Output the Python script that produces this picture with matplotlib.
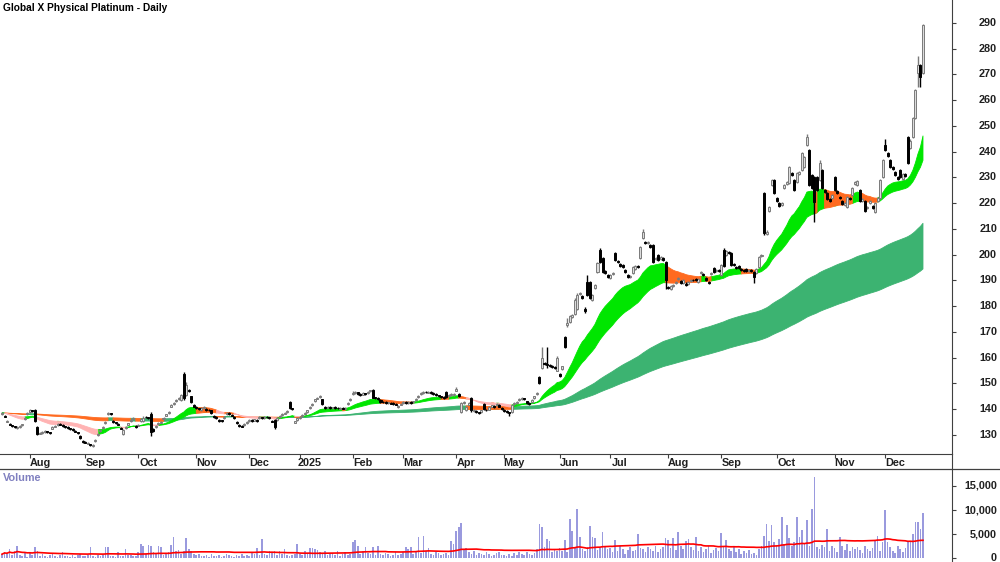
import matplotlib
matplotlib.use("Agg")
import matplotlib.pyplot as plt
from matplotlib.transforms import blended_transform_factory
import numpy as np
import pandas as pd

plt.rcParams['font.family'] = ['Liberation Sans', 'DejaVu Sans']

title = "Global X Physical Platinum - Daily"

# ASX holidays inside the chart window
asx_holidays = ["2024-12-25", "2024-12-26", "2025-01-01", "2025-01-27",
                "2025-04-18", "2025-04-21", "2025-04-25", "2025-06-09"]

# daily prices, one line per month (Jul 2024 .. Dec 2025)
opens = [
    138.0, 137.5, 135.2, 134.3, 133.7, 133.2, 132.8, 133.0, 133.8, 136.0, 138.2,
    139.0, 139.5, 139.7, 133.0, 130.5, 130.7, 131.2, 131.3, 131.0, 132.5, 133.2, 133.8, 134.2, 133.8, 133.3, 133.0, 132.5, 132.3, 131.6, 131.0, 129.5, 127.8,
    127.3, 126.6, 126.3, 125.9, 127.6, 130.0, 131.6, 132.6, 134.5, 138.0, 138.4, 135.5, 134.8, 134.3, 132.8, 130.5, 132.6, 134.0, 135.3, 136.2, 133.5,
    133.6, 135.5, 135.5, 137.0, 136.8, 138.0, 132.5, 133.0, 134.2, 134.8, 136.0, 137.5, 138.6, 141.0, 142.0, 143.2, 144.0, 143.5, 153.5, 145.5, 147.5, 145.0, 141.6,
    140.8, 140.3, 139.6, 140.5, 140.2, 139.8, 139.5, 137.4, 136.9, 135.8, 135.6, 136.5, 138.0, 138.5, 137.8, 137.0, 135.0, 133.9, 133.4, 133.8, 134.6,
    135.3, 135.9, 135.6, 135.8, 136.5, 136.8, 136.6, 137.1, 136.8, 135.6, 135.8, 135.9, 137.0, 137.8, 138.3, 138.8, 142.8, 140.3, 134.8, 135.8,
    136.6, 137.3, 138.1, 138.8, 140.5, 141.5, 143.2, 144.1, 144.8, 143.8, 141.0, 140.6, 140.9, 140.4, 140.8, 140.6, 140.2, 140.6, 140.2, 141.9, 143.5,
    145.8, 146.2, 146.5, 145.8, 145.7, 146.1, 146.3, 146.9, 147.6, 144.6, 144.3, 143.5, 142.9, 142.7, 142.3, 142.5, 142.3, 142.1, 140.8, 141.8,
    142.4, 142.8, 142.4, 142.7, 142.6, 143.5, 144.6, 145.8, 146.3, 146.8, 146.4, 146.6, 146.2, 145.8, 145.4, 145.0, 144.8, 146.7, 145.1, 145.4, 145.6,
    147.2, 146.0, 139.0, 142.4, 139.6, 141.8, 144.4, 139.3, 139.4, 138.8, 139.0, 142.0, 139.8, 139.8, 141.0, 141.3, 141.5, 141.6, 140.5,
    139.8, 139.3, 138.8, 139.0, 141.9, 142.5, 143.5, 144.0, 144.2, 143.0, 142.3, 142.8, 144.3, 145.8, 152.5, 156.0, 158.0, 157.5, 157.2, 156.7, 156.3, 155.0,
    153.5, 155.5, 168.0, 172.5, 174.0, 175.8, 177.0, 179.0, 184.6, 184.0, 179.0, 189.5, 189.5, 182.4, 187.0, 193.3, 202.0, 198.7, 193.6, 192.0,
    191.0, 192.4, 200.6, 197.5, 196.2, 195.8, 194.0, 192.0, 191.2, 193.0, 194.3, 195.7, 198.7, 206.5, 205.0, 204.6, 203.6, 203.8, 198.2, 200.0, 198.5, 198.8, 197.0,
    187.5, 186.8, 188.0, 189.0, 190.5, 189.8, 189.0, 188.8, 188.5, 189.8, 190.3, 190.4, 189.5, 192.8, 192.5, 190.8, 189.5, 192.5, 194.8, 193.6, 194.2,
    192.0, 202.0, 200.0, 201.0, 200.6, 196.4, 195.2, 195.5, 194.4, 194.2, 194.5, 193.7, 194.1, 193.3, 193.0, 195.3, 199.5, 224.0, 208.0, 217.0, 227.0, 229.0,
    222.0, 220.2, 219.4, 226.0, 227.6, 228.0, 231.8, 229.0, 228.3, 231.5, 233.0, 234.0, 242.6, 240.7, 231.0, 230.0, 230.0, 229.0, 233.0, 225.0, 224.0, 221.8, 222.0,
    230.0, 224.8, 222.5, 221.0, 219.3, 218.5, 222.0, 223.0, 227.5, 227.0, 225.0, 221.0, 221.0, 218.0, 220.0, 218.8, 216.6, 221.0, 222.0, 230.0,
    242.6, 239.3, 236.8, 234.0, 232.0, 230.2, 233.0, 229.5, 231.2, 245.7, 241.5, 245.7, 253.0, 270.6, 273.7, 270.6,
]
highs = [
    138.9, 137.8, 135.9, 134.6, 134.0, 133.5, 133.4, 133.7, 134.4, 137.0, 139.0,
    139.9, 139.8, 140.0, 133.4, 131.2, 131.4, 131.9, 131.6, 131.3, 133.4, 133.9, 134.6, 134.6, 134.1, 133.6, 133.3, 132.8, 132.6, 131.9, 131.3, 129.8, 128.1,
    127.6, 127.2, 126.6, 126.5, 128.3, 130.8, 132.3, 133.3, 135.3, 138.9, 138.7, 135.8, 135.1, 134.6, 133.1, 132.4, 133.3, 134.8, 136.1, 137.0, 133.8,
    134.3, 136.3, 137.2, 137.3, 137.1, 139.0, 132.8, 133.8, 134.9, 135.3, 136.9, 138.3, 139.3, 141.9, 142.7, 143.9, 144.8, 146.0, 154.3, 150.5, 147.8, 145.3, 141.9,
    141.1, 140.6, 140.8, 141.3, 140.5, 140.1, 139.8, 137.7, 137.2, 136.1, 135.9, 137.3, 138.9, 138.8, 138.1, 137.3, 135.3, 134.2, 133.7, 134.5, 135.3,
    136.1, 136.2, 136.3, 136.1, 137.3, 137.1, 137.3, 137.4, 137.1, 135.9, 136.1, 136.9, 137.8, 138.5, 138.8, 139.5, 143.3, 140.6, 135.6, 136.8,
    137.3, 138.1, 138.8, 139.8, 141.3, 142.3, 144.1, 144.8, 145.6, 144.1, 141.3, 141.3, 141.2, 141.0, 141.1, 140.9, 140.8, 140.9, 140.8, 142.7, 144.3,
    147.0, 147.0, 146.8, 146.1, 146.5, 146.4, 147.0, 147.6, 147.9, 144.9, 144.6, 143.8, 143.2, 143.0, 142.9, 142.8, 142.6, 142.4, 141.6, 142.5,
    143.1, 143.1, 143.0, 143.0, 143.3, 144.3, 145.4, 146.6, 147.0, 147.1, 147.0, 146.9, 146.5, 146.1, 145.7, 145.3, 145.1, 147.0, 145.8, 146.1, 146.3,
    148.7, 146.3, 142.7, 143.2, 141.4, 142.8, 144.8, 140.0, 139.7, 139.1, 139.8, 142.4, 140.1, 141.2, 141.8, 141.6, 142.3, 141.9, 140.8,
    140.1, 139.6, 139.1, 141.8, 142.7, 143.1, 144.3, 144.7, 144.5, 143.3, 142.6, 143.8, 145.3, 146.6, 152.8, 164.0, 158.5, 164.0, 157.6, 157.0, 156.6, 160.6,
    153.9, 156.9, 168.5, 175.5, 176.4, 177.0, 183.0, 185.0, 185.5, 184.4, 179.5, 192.0, 189.9, 184.8, 188.7, 197.3, 202.5, 199.1, 194.0, 192.4,
    192.4, 193.4, 201.0, 197.9, 196.6, 196.2, 194.4, 192.4, 192.0, 195.7, 195.9, 196.1, 203.4, 210.0, 205.4, 205.4, 204.0, 204.2, 199.1, 200.4, 199.4, 199.2, 197.4,
    187.9, 188.4, 188.7, 189.9, 191.4, 190.2, 190.4, 189.2, 189.9, 190.6, 190.7, 190.8, 190.9, 193.7, 192.9, 191.2, 189.9, 193.4, 195.2, 194.4, 194.6,
    196.4, 202.5, 201.9, 201.4, 201.0, 196.8, 195.6, 195.9, 194.8, 194.6, 194.9, 194.4, 194.5, 193.7, 194.9, 199.4, 200.4, 224.5, 209.4, 219.0, 229.5, 229.5,
    222.5, 220.6, 220.4, 227.4, 228.7, 234.5, 232.2, 229.4, 232.1, 232.4, 240.0, 238.4, 247.0, 241.1, 231.4, 230.4, 230.4, 236.8, 233.4, 225.4, 224.4, 222.2, 223.4,
    230.4, 225.2, 222.9, 221.4, 220.4, 222.9, 222.4, 226.4, 228.7, 228.9, 225.4, 221.9, 221.4, 218.9, 221.4, 219.2, 220.4, 222.4, 229.4, 237.2,
    245.0, 239.7, 237.2, 234.4, 232.4, 230.6, 233.4, 231.9, 231.6, 246.1, 245.0, 253.4, 264.5, 277.0, 274.1, 289.5,
]
lows = [
    137.6, 136.8, 134.9, 133.7, 133.2, 132.7, 132.5, 132.8, 133.5, 135.7, 137.9,
    138.7, 138.9, 135.0, 129.8, 130.2, 130.4, 130.9, 130.7, 130.4, 132.2, 133.0, 133.5, 133.7, 133.2, 132.7, 132.4, 132.0, 131.7, 131.0, 130.4, 128.4, 126.9,
    126.7, 126.3, 125.6, 125.5, 127.3, 129.7, 131.3, 132.3, 134.2, 137.7, 137.6, 134.7, 134.2, 133.7, 132.2, 130.1, 132.3, 133.7, 135.0, 135.9, 132.6,
    133.3, 135.2, 135.2, 136.5, 136.2, 129.5, 131.0, 132.7, 133.9, 134.5, 135.7, 137.2, 138.3, 140.7, 141.7, 142.9, 143.7, 143.2, 143.5, 145.0, 146.7, 142.5, 140.7,
    140.2, 139.7, 139.3, 140.2, 139.4, 139.2, 138.2, 136.7, 136.3, 135.2, 135.1, 136.2, 137.7, 137.9, 137.2, 136.3, 134.3, 133.2, 132.9, 133.5, 134.3,
    135.0, 135.2, 135.3, 135.2, 136.2, 136.1, 136.3, 136.5, 136.2, 134.9, 132.5, 135.6, 136.7, 137.5, 138.0, 138.5, 140.2, 139.7, 134.5, 135.5,
    136.3, 137.0, 137.8, 138.5, 140.2, 141.2, 142.9, 143.8, 144.5, 141.7, 140.2, 140.3, 140.2, 140.1, 140.2, 140.0, 139.9, 139.9, 139.9, 141.6, 143.2,
    145.5, 145.9, 145.7, 145.2, 145.4, 145.5, 146.0, 146.6, 144.2, 143.9, 143.7, 142.5, 142.3, 142.1, 142.0, 141.9, 141.7, 141.5, 140.5, 141.5,
    142.1, 142.2, 142.1, 142.1, 142.3, 143.2, 144.3, 145.5, 146.0, 146.2, 146.1, 146.0, 145.6, 145.2, 144.8, 144.3, 144.1, 144.3, 144.8, 145.1, 145.3,
    146.9, 144.7, 138.5, 142.0, 139.2, 141.5, 139.0, 139.0, 138.7, 138.0, 138.7, 139.6, 139.2, 139.5, 140.7, 140.6, 141.2, 140.7, 139.7,
    139.0, 138.7, 137.5, 138.7, 141.6, 142.2, 143.2, 143.7, 143.5, 142.2, 141.7, 142.5, 144.0, 145.5, 149.7, 155.5, 157.1, 156.0, 156.4, 156.0, 155.6, 154.7,
    152.4, 155.2, 163.6, 172.1, 173.6, 175.4, 176.6, 178.5, 184.2, 182.6, 177.5, 184.0, 182.6, 182.0, 186.6, 193.0, 196.6, 192.9, 192.6, 191.0,
    190.6, 192.0, 197.6, 196.6, 195.1, 194.9, 192.9, 191.0, 190.8, 192.6, 193.9, 194.9, 198.3, 206.1, 204.1, 204.2, 202.6, 196.6, 197.8, 197.6, 198.1, 197.6, 186.5,
    186.6, 186.4, 187.6, 188.6, 190.1, 188.6, 188.6, 187.9, 188.1, 189.4, 189.6, 189.6, 189.1, 192.4, 191.6, 189.8, 188.6, 192.1, 192.9, 193.2, 193.4,
    191.6, 195.1, 199.6, 200.2, 195.6, 195.6, 194.4, 194.4, 193.6, 193.4, 193.1, 193.3, 193.4, 189.0, 192.6, 194.9, 199.1, 207.8, 207.6, 216.6, 226.6, 223.6,
    220.6, 218.5, 219.0, 225.6, 227.2, 227.6, 230.6, 224.6, 227.9, 231.1, 232.6, 233.6, 242.2, 226.6, 225.6, 212.7, 224.6, 228.6, 225.6, 224.0, 221.1, 220.6, 221.6,
    224.6, 223.6, 221.6, 219.1, 218.9, 218.1, 221.1, 222.6, 227.1, 226.6, 220.6, 220.6, 216.6, 217.6, 219.6, 217.6, 216.2, 220.6, 221.6, 229.6,
    240.3, 238.1, 233.6, 232.9, 230.6, 229.1, 229.6, 229.1, 230.1, 235.2, 241.1, 245.3, 252.6, 265.0, 265.0, 270.2,
]
closes = [
    138.5, 137.0, 135.5, 134.0, 133.5, 133.0, 133.0, 133.3, 134.0, 136.5, 138.5,
    139.5, 139.2, 135.5, 130.5, 130.8, 131.0, 131.5, 131.0, 130.8, 133.0, 133.5, 134.2, 134.0, 133.5, 133.0, 132.7, 132.3, 132.0, 131.3, 130.8, 128.8, 127.3,
    127.0, 126.9, 126.0, 126.2, 128.0, 130.5, 132.0, 133.0, 135.0, 138.5, 138.0, 135.0, 134.5, 134.0, 132.5, 132.0, 133.0, 134.5, 135.8, 136.6, 133.0,
    134.0, 136.0, 136.6, 136.8, 136.5, 131.0, 131.5, 133.5, 134.6, 135.0, 136.6, 138.0, 139.0, 141.6, 142.4, 143.6, 144.5, 145.5, 144.4, 149.4, 147.0, 142.8, 141.0,
    140.5, 140.0, 140.5, 141.0, 139.7, 139.5, 138.5, 137.0, 136.6, 135.5, 135.4, 137.0, 138.6, 138.2, 137.5, 136.6, 134.6, 133.5, 133.2, 134.2, 135.0,
    135.8, 135.5, 136.0, 135.5, 137.0, 136.4, 137.0, 136.8, 136.5, 135.2, 133.0, 136.6, 137.5, 138.2, 138.5, 139.2, 140.5, 140.0, 135.3, 136.5,
    137.0, 137.8, 138.5, 139.5, 141.0, 142.0, 143.8, 144.5, 145.2, 142.0, 140.5, 141.0, 140.5, 140.7, 140.5, 140.3, 140.5, 140.2, 140.5, 142.4, 144.0,
    146.3, 146.7, 146.0, 145.5, 146.2, 145.8, 146.7, 147.3, 144.5, 144.2, 144.0, 142.8, 142.6, 142.4, 142.6, 142.2, 142.0, 141.8, 141.3, 142.2,
    142.8, 142.5, 142.7, 142.4, 143.0, 144.0, 145.1, 146.3, 146.7, 146.5, 146.7, 146.3, 145.9, 145.5, 145.1, 144.6, 144.4, 144.6, 145.5, 145.8, 146.0,
    148.0, 145.0, 142.4, 142.8, 141.0, 142.5, 139.5, 139.7, 139.0, 138.5, 139.5, 140.0, 139.5, 140.9, 141.5, 140.9, 142.0, 141.0, 140.0,
    139.3, 139.0, 138.5, 141.5, 142.4, 142.8, 144.0, 144.4, 143.8, 142.5, 142.0, 143.5, 145.0, 146.3, 150.0, 160.0, 157.5, 157.0, 156.8, 156.4, 156.0, 160.0,
    152.8, 156.6, 164.0, 173.5, 176.0, 176.6, 182.4, 184.4, 185.0, 183.0, 178.0, 184.4, 183.0, 184.4, 188.3, 196.8, 197.0, 193.3, 193.0, 191.4,
    192.0, 193.0, 198.0, 197.0, 195.5, 195.3, 193.3, 191.4, 191.6, 195.3, 195.5, 195.3, 203.0, 208.8, 204.5, 205.0, 203.0, 197.0, 198.7, 198.0, 199.0, 198.0, 190.0,
    187.0, 188.0, 188.3, 189.5, 191.0, 189.0, 190.0, 188.3, 189.5, 190.2, 190.0, 190.0, 190.5, 193.3, 192.0, 190.2, 189.0, 193.0, 193.3, 194.0, 193.8,
    196.0, 195.5, 201.5, 200.6, 196.0, 196.0, 194.8, 194.8, 194.0, 193.8, 193.5, 194.0, 193.8, 191.4, 194.5, 199.0, 200.0, 208.4, 209.0, 218.5, 229.0, 224.0,
    221.0, 219.0, 220.0, 227.0, 228.3, 234.0, 231.0, 225.0, 231.7, 232.0, 239.5, 238.0, 245.7, 227.0, 226.0, 220.5, 225.0, 235.6, 226.0, 224.4, 221.5, 221.0, 223.0,
    225.0, 224.0, 222.0, 219.5, 220.0, 222.5, 221.5, 226.0, 228.3, 228.5, 221.0, 221.5, 217.0, 218.5, 221.0, 218.0, 220.0, 222.0, 229.0, 236.8,
    240.7, 238.5, 234.0, 233.3, 231.0, 229.5, 230.0, 231.5, 230.5, 235.6, 244.0, 253.0, 264.0, 273.7, 269.0, 289.0,
]
volumes = [
    800, 1300, 900, 1900, 600, 1400, 2500, 700, 500, 1000, 300,
    1200, 600, 2200, 1500, 500, 800, 400, 300, 600, 900, 500, 300, 700, 1200, 400, 500, 300, 600, 200, 700, 900, 400,
    400, 600, 2200, 500, 300, 700, 400, 600, 2300, 2200, 500, 400, 300, 1300, 500, 400, 1800, 600, 700, 400, 500,
    1200, 2900, 2400, 800, 2700, 2500, 1300, 900, 2400, 2200, 700, 1000, 1200, 2700, 4300, 1500, 1700, 900, 1400, 4100, 1800, 1500, 800,
    600, 900, 500, 400, 700, 300, 800, 500, 400, 600, 300, 500, 900, 700, 400, 300, 600, 500, 800, 400, 600,
    500, 1300, 800, 2000, 600, 3900, 900, 700, 1500, 1200, 1500, 600, 1500, 800, 1800, 700, 400, 600, 900, 3000,
    800, 600, 1500, 900, 2000, 2100, 1800, 1700, 1200, 900, 1500, 600, 800, 1000, 700, 1400, 500, 900, 1200, 600, 800,
    3400, 3700, 2600, 900, 1500, 2200, 1100, 800, 2200, 700, 2500, 900, 600, 1000, 800, 500, 700, 1200, 600, 900,
    1300, 2200, 1900, 2300, 800, 1200, 4300, 1100, 4650, 1500, 2000, 900, 700, 1200, 1000, 600, 800, 1100, 700, 3500, 3000,
    5700, 6400, 7200, 1800, 2000, 1200, 900, 1500, 700, 1100, 800, 600, 1300, 900, 500, 700, 1000, 1200, 600,
    600, 400, 800, 500, 1000, 700, 1200, 900, 600, 1300, 800, 700, 1000, 1900, 7100, 6500, 2200, 3900, 3600, 1200, 1700, 1400,
    2000, 1500, 3750, 1200, 8200, 5700, 2300, 10300, 4400, 1800, 1500, 2200, 6650, 4300, 4200, 1600, 2000, 5400, 2400, 1800,
    2000, 1200, 3750, 1500, 2500, 1800, 900, 1600, 2200, 1400, 1700, 5100, 2000, 1800, 1300, 2200, 1900, 1500, 2400, 1200, 1800, 2300, 4100,
    3800, 2000, 4100, 1600, 5500, 2600, 1800, 3500, 3900, 2200, 1700, 4300, 1500, 2200, 1300, 1800, 2400, 1100, 1600, 2000, 1400,
    5300, 2200, 3750, 1900, 1500, 2400, 1200, 1800, 900, 1500, 1100, 1700, 800, 1000, 600, 1900, 2600, 4600, 7100, 3500, 6900, 3300,
    2800, 4000, 8600, 3000, 6900, 4100, 2500, 3300, 8600, 4300, 5800, 3100, 8000, 2600, 10300, 16900, 2300, 1800, 2700, 2200, 6000, 1500, 2500,
    2100, 1200, 4300, 2400, 1600, 3000, 1400, 2200, 1900, 2300, 1700, 1100, 2600, 1800, 1400, 2100, 3800, 4600, 1500, 3400,
    10000, 3400, 2200, 1500, 1100, 2400, 1800, 1300, 2000, 3600, 3500, 5000, 7400, 7600, 6000, 9300,
]

month_labels = ["Aug", "Sep", "Oct", "Nov", "Dec", "2025", "Feb", "Mar", "Apr",
                "May", "Jun", "Jul", "Aug", "Sep", "Oct", "Nov", "Dec"]
price_ticks = list(range(130, 300, 10))
volume_ticks = [0, 5000, 10000, 15000]

dates = pd.bdate_range("2024-07-17", "2025-12-22", freq="C", holidays=asx_holidays)
df = pd.DataFrame({"open": opens, "high": highs, "low": lows,
                   "close": closes, "volume": volumes}, index=dates)
n = len(df)
x = np.arange(n)

# trend ribbons (short and long EMA pairs)
ema_s_fast = df["close"].ewm(span=21, adjust=False).mean().values
ema_s_slow = df["close"].ewm(span=40, adjust=False).mean().values
ema_l_fast = df["close"].ewm(span=130, adjust=False).mean().values
ema_l_slow = df["close"].ewm(span=230, adjust=False).mean().values
vol_ma = df["volume"].rolling(50, min_periods=1).mean().values

GREEN = "#00e600"
ORANGE = "#ff6a1f"
PINK = "#ffb3b3"
SEA = "#3cb371"
AXIS = "#404040"
FS = 7.8


def widen(mask):
    m = mask.copy()
    m[1:] = m[1:] | mask[:-1]
    return m


fig = plt.figure(figsize=(10, 5.62), dpi=100)
ax = fig.add_axes([0, 108 / 562, 0.952, 454 / 562])
axv = fig.add_axes([0, 0, 0.952, 93 / 562])

# ribbon colour follows the slope of the faster line
long_up = np.diff(ema_l_fast, prepend=ema_l_fast[0]) >= 0
short_up = np.diff(ema_s_fast, prepend=ema_s_fast[0]) >= 0
lo_l = np.minimum(ema_l_fast, ema_l_slow)
hi_l = np.maximum(ema_l_fast, ema_l_slow)
lo_s = np.minimum(ema_s_fast, ema_s_slow)
hi_s = np.maximum(ema_s_fast, ema_s_slow)

ax.fill_between(x, lo_l, hi_l, where=widen(long_up), color=SEA, lw=0.6, edgecolor=SEA, zorder=1)
ax.fill_between(x, lo_l, hi_l, where=widen(~long_up), color=ORANGE, lw=0.6, edgecolor=ORANGE, zorder=1)
ax.fill_between(x, lo_s, hi_s, where=widen(short_up), color=GREEN, lw=0.6, edgecolor=GREEN, zorder=2)
ax.fill_between(x, lo_s, hi_s, where=widen(~short_up & long_up), color=ORANGE, lw=0.6, edgecolor=ORANGE, zorder=2)
ax.fill_between(x, lo_s, hi_s, where=widen(~short_up & ~long_up), color=PINK, lw=0.6, edgecolor=PINK, zorder=2)

# candles
o = df["open"].values
c = df["close"].values
up = c >= o
body_lo = np.minimum(o, c)
body_h = np.maximum(np.abs(c - o), 0.35)
ax.vlines(x[up], df["low"].values[up], df["high"].values[up], color="#7a7a7a", lw=1.0, zorder=3)
ax.vlines(x[~up], df["low"].values[~up], df["high"].values[~up], color="black", lw=1.0, zorder=3)
ax.bar(x[up], body_h[up], bottom=body_lo[up], width=0.8, color="#dcdcdc",
       edgecolor="#7a7a7a", lw=0.7, zorder=4)
ax.bar(x[~up], body_h[~up], bottom=body_lo[~up], width=0.8, color="black",
       edgecolor="black", lw=0.7, zorder=4)

xmin, xmax = -0.8, n - 1 + 11.5
ax.set_xlim(xmin, xmax)
ax.set_ylim(122.6, 298.9)

# volume
axv.bar(x, df["volume"].values, width=0.65, color="#9a9ade", zorder=2)
axv.plot(x, vol_ma, color="#ff0000", lw=1.2, zorder=3)
axv.set_xlim(xmin, xmax)
axv.set_ylim(-830, 18540)

# month ticks
month_start = list(np.flatnonzero(df.index.month != np.roll(df.index.month, 1))[1:])
ax.set_xticks(month_start)
ax.set_xticklabels([])
ax.tick_params(axis="x", length=3, width=0.8, color=AXIS)
trans = blended_transform_factory(ax.transData, ax.transAxes)
for pos, lab in zip(month_start, month_labels):
    ax.text(pos + 4, -0.02, lab, transform=trans, ha="center", va="center",
            fontsize=FS, fontweight="bold", color="#202020")
axv.set_xticks([])

label_x = 997 / 952
for a, ticks, labels in ((ax, price_ticks, [str(v) for v in price_ticks]),
                         (axv, volume_ticks, [f"{v:,}" for v in volume_ticks])):
    a.yaxis.tick_right()
    a.set_yticks(ticks)
    a.set_yticklabels([])
    a.tick_params(axis="y", length=3, width=0.8, color=AXIS)
    tr = blended_transform_factory(a.transAxes, a.transData)
    for v, lab in zip(ticks, labels):
        a.text(label_x, v, lab, transform=tr, ha="right", va="center",
               fontsize=FS, fontweight="bold", color="#202020", clip_on=False)
    for side in ("left", "top", "bottom"):
        a.spines[side].set_visible(False)
    a.spines["right"].set_color(AXIS)
    a.set_facecolor("none")

ax.spines["bottom"].set_visible(True)
ax.spines["bottom"].set_color(AXIS)

# separator above volume panel and the right axis line through the gap
fig.add_artist(plt.Line2D([0, 1], [93 / 562, 93 / 562], color=AXIS, lw=0.9))
fig.add_artist(plt.Line2D([0.952, 0.952], [93 / 562, 108 / 562], color=AXIS, lw=0.8))

fig.text(0.003, 1 - 8 / 562, title, fontsize=7.3, fontweight="bold", va="center")
fig.text(0.003, 1 - 478 / 562, "Volume", fontsize=FS, fontweight="bold",
         color="#8080c0", va="center")

fig.savefig("out.png", dpi=100)
